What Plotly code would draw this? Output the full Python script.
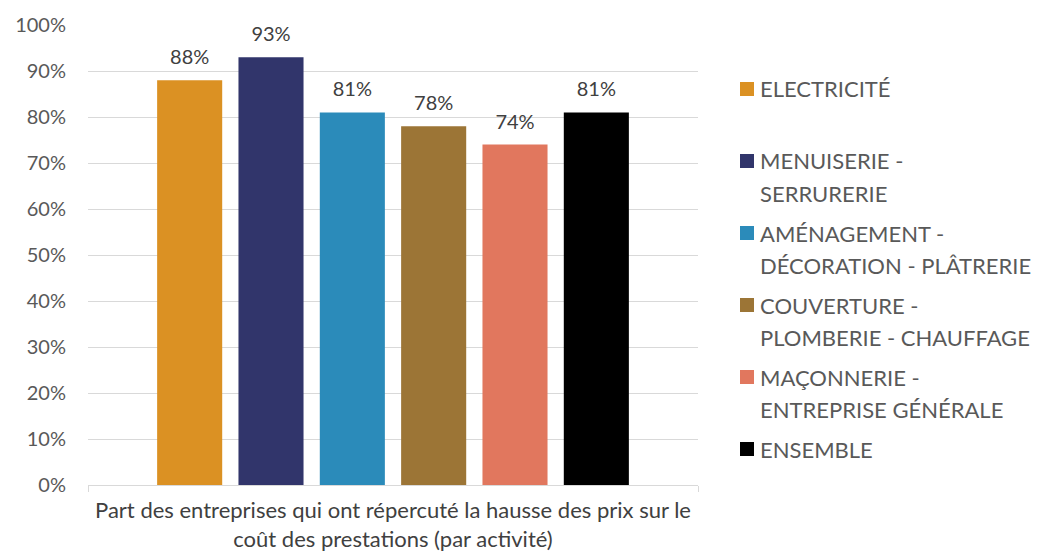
import plotly.graph_objects as go

category = "Part des entreprises qui ont répercuté la hausse des prix sur le<br>coût des prestations (par activité)"
series_names = [
    "ELECTRICITÉ",
    "MENUISERIE -<br>SERRURERIE",
    "AMÉNAGEMENT -<br>DÉCORATION - PLÂTRERIE",
    "COUVERTURE -<br>PLOMBERIE - CHAUFFAGE",
    "MAÇONNERIE -<br>ENTREPRISE GÉNÉRALE",
    "ENSEMBLE",
]
values = [0.88, 0.93, 0.81, 0.78, 0.74, 0.81]
colors = ["#DB9123", "#31356B", "#2B8BBA", "#9C7536", "#E1775E", "#000000"]

OFF = 8  # page body margin
W, H = 1041 - OFF, 553 - OFF
L, T = 88 - OFF, 25 - OFF
PW, PH = 610, 460
R = W - L - PW
B = H - T - PH
FONT = "Lato"

fig = go.Figure()
for i, (name, v, c) in enumerate(zip(series_names, values, colors)):
    fig.add_trace(go.Bar(
        x=[category], y=[v], name=name, marker=dict(color=c, line=dict(width=0)),
        offsetgroup=str(i), alignmentgroup="a", showlegend=False,
        hoverinfo="skip",
    ))
for i, (name, v) in enumerate(zip(series_names, values)):
    fig.add_trace(go.Scatter(
        x=[category], y=[v], mode="markers+text", text=[f"{round(v*100)}%"],
        textposition="top center", offsetgroup=str(i), alignmentgroup="a",
        marker=dict(size=16, opacity=0), showlegend=False, hoverinfo="skip",
        cliponaxis=False,
        textfont=dict(family=FONT, size=20, color="#404040"),
    ))

# manual legend (page pixel positions)
def px2x(px):
    return (px - OFF - L) / PW

def py2y(py):
    return (T + PH - (py - OFF)) / PH

shapes = []
annotations = []
for i, (name, c) in enumerate(zip(series_names, colors)):
    y0 = 89 + 72 * i
    shapes.append(dict(type="rect", xref="paper", yref="paper",
                       x0=px2x(740), x1=px2x(754), y0=py2y(y0 + 7), y1=py2y(y0 - 7),
                       fillcolor=c, line=dict(width=0)))
    for j, line in enumerate(name.split("<br>")):
        annotations.append(dict(xref="paper", yref="paper", x=px2x(758), y=py2y(y0 + 32 * j),
                                xanchor="left", yanchor="middle", text=line, showarrow=False,
                                font=dict(family=FONT, size=22, color="#595959")))

fig.update_layout(
    width=W, height=H,
    margin=dict(l=L, r=R, t=T, b=B, autoexpand=False),
    plot_bgcolor="white", paper_bgcolor="white",
    barmode="group", bargap=0.2, bargroupgap=0.2,
    scattermode="group", scattergap=0.2,
    shapes=shapes, annotations=annotations,
    font=dict(family=FONT, size=20, color="#595959"),
)
fig.update_xaxes(
    showline=True, linecolor="#D9D9D9", linewidth=1,
    ticks="outside", tickson="boundaries", ticklen=6, tickcolor="#D9D9D9",
    tickfont=dict(family=FONT, size=22, color="#404040"),
    ticklabelstandoff=6,
    showgrid=False,
)
fig.update_yaxes(
    range=[0, 1], dtick=0.1, tickformat=".0%",
    showgrid=True, gridcolor="#D9D9D9", gridwidth=1, zeroline=False,
    tickfont=dict(family=FONT, size=20, color="#595959"),
    ticklabelstandoff=21,
)

fig.write_html("out.html")
